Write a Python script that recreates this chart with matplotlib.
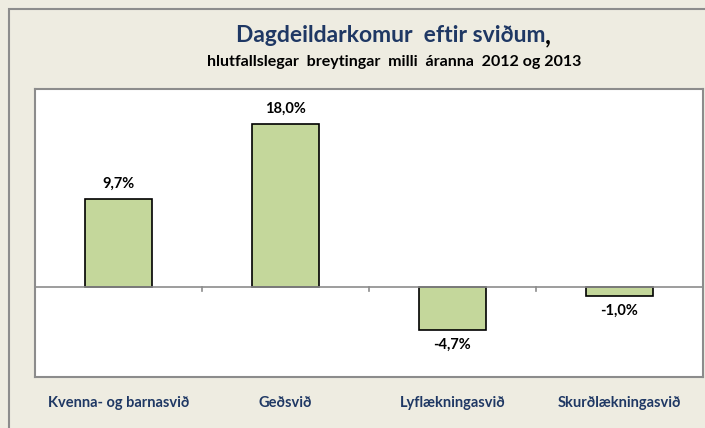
import matplotlib.pyplot as plt
from matplotlib.patches import Rectangle
from matplotlib.transforms import blended_transform_factory

# data
categories = ["Kvenna- og barnasvið", "Geðsvið", "Lyflækningasvið", "Skurðlækningasvið"]
values = [9.7, 18.0, -4.7, -1.0]
labels = ["9,7%", "18,0%", "-4,7%", "-1,0%"]

W, H = 705, 428
fig = plt.figure(figsize=(W / 100, H / 100), dpi=100)
fig.patch.set_facecolor("#EEECE1")

# outer chart frame
fig.patches.append(Rectangle((9 / W, -0.05), 1.05, 1 - 9 / H + 0.05, transform=fig.transFigure,
                             fill=False, edgecolor="#8C8C8C", linewidth=1.5))

# plot area: x 35..703, y 89..377 px
ax = fig.add_axes([35 / W, 1 - 377 / H, (703 - 35) / W, (377 - 89) / H])
ax.set_facecolor("white")
x = range(len(values))
ax.bar(x, values, width=0.4, color="#C4D79B", edgecolor="black", linewidth=1.2, zorder=2)
ax.set_xlim(-0.5, 3.5)
ax.set_ylim(-9.93, 21.86)
ax.axhline(0, color="#8C8C8C", linewidth=1.2, zorder=3)

# small tick marks on the zero line between categories
for b in [0.5, 1.5, 2.5]:
    ax.plot([b, b], [0, -0.45], color="#8C8C8C", linewidth=1.2, zorder=3)

for xi, v, lab in zip(x, values, labels):
    off = 0.9 if v > 0 else -0.9
    ax.text(xi, v + off, lab, ha="center", va="bottom" if v > 0 else "top",
            fontsize=10.5, fontweight="bold", family="Lato", color="black")

ax.set_xticks([])
ax.set_yticks([])
for s in ax.spines.values():
    s.set_color("#8C8C8C")
    s.set_linewidth(1.5)

# category labels below the plot area
tr = blended_transform_factory(ax.transData, fig.transFigure)
for xi, c in zip(x, categories):
    ax.text(xi, 1 - 403 / H, c, transform=tr, ha="center", va="center", fontsize=10.5,
            fontweight="bold", family="Lato", color="#1F3864")

t = fig.text(391 / W, 1 - 35 / H, "Dagdeildarkomur  eftir sviðum", ha="center", va="center",
             fontsize=16.5, fontweight="bold", family="Lato", color="#1F3864")
fig.text(545 / W, 1 - 36 / H, ",", ha="left", va="center",
         fontsize=18, fontweight="bold", family="Lato", color="black")
fig.text(394 / W, 1 - 62 / H, "hlutfallslegar  breytingar  milli  áranna  2012 og 2013",
         ha="center", va="center", fontsize=11.5, fontweight="bold", family="Lato", color="black")

fig.savefig("out.png", dpi=100, facecolor=fig.get_facecolor())
